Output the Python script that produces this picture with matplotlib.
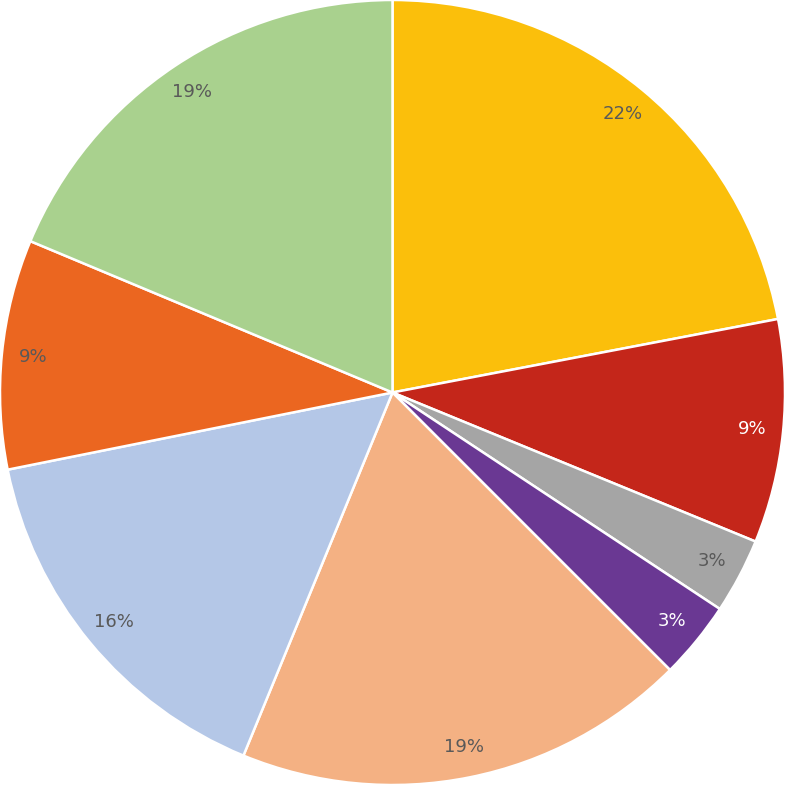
import matplotlib
matplotlib.use("Agg")
import matplotlib.pyplot as plt

values = [22.0, 9.2, 3.1, 3.2, 18.7, 15.65, 9.45, 18.7]
labels = ["22%", "9%", "3%", "3%", "19%", "16%", "9%", "19%"]
colors = ["#FBBF0B", "#C4261A", "#A5A5A5", "#6A3893", "#F4B183", "#B4C7E7", "#EB6620", "#A9D18E"]
label_colors = ["#595959", "#FFFFFF", "#595959", "#FFFFFF", "#595959", "#595959", "#595959", "#595959"]

fig = plt.figure(figsize=(7.85, 7.85), dpi=100)
ax = fig.add_axes([0, 0, 1, 1])
wedges, texts = ax.pie(values, colors=colors, startangle=90, counterclock=False,
                       labels=labels, labeldistance=0.92, radius=1.0,
                       wedgeprops=dict(edgecolor="white", linewidth=1.8),
                       textprops=dict(color="#595959", fontsize=13,
                                      family=["Liberation Sans Narrow", "DejaVu Sans"]))
for t, c in zip(texts, label_colors):
    t.set_horizontalalignment("center")
    t.set_verticalalignment("center")
    t.set_color(c)
ax.set_xlim(-1.0, 1.0)
ax.set_ylim(-1.0, 1.0)
ax.set_aspect("equal")
ax.axis("off")
fig.savefig("out.png", dpi=100)
